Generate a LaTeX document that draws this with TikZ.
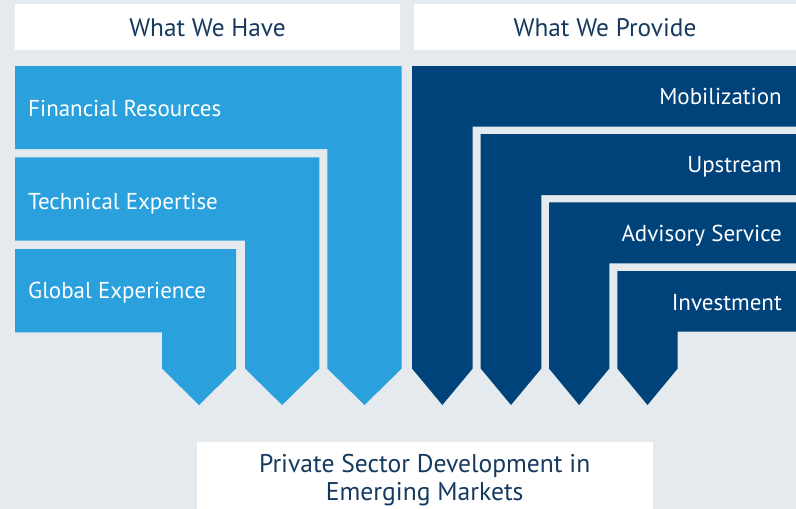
\documentclass[tikz,border=0pt]{standalone}
\usepackage{fontspec}
\setmainfont{PT Sans}
\usepackage{tikz}
\usetikzlibrary{positioning}
\definecolor{bggray}{HTML}{E5EAEE}
\definecolor{haveblue}{HTML}{2AA1DC}
\definecolor{provideblue}{HTML}{00437B}
\definecolor{navytext}{HTML}{163A5F}
\tikzstyle{header} = [text=navytext, inner sep=0pt,
    font=\fontsize{25.3}{28}\selectfont]
\tikzstyle{have} = [fill=haveblue]
\tikzstyle{provide} = [fill=provideblue]
\tikzstyle{itemtext} = [text=white, inner sep=0pt, font=\fontsize{23}{26}\selectfont]

\begin{document}
\begin{tikzpicture}[x=1pt, y=-1pt]
    % background, fixes the size of the page
    \fill [bggray] (0,0) rectangle (796,509);
    \useasboundingbox (0,0) rectangle (796,509);

    % the two headers
    \fill [white] (15,4) rectangle (400,50);
    \fill [white] (414,4) rectangle (796,50);
    \node [header, anchor=base] (have) at (207.5,36) {What We Have};
    \node [header, anchor=base] (provide) at (605,36) {What We Provide};

    % left blocks: top, bottom of the bar, left and right of the column
    \foreach \t/\b/\l/\r in {66/149/327.3/401.7, 157.3/240.7/245/319.3, 249/332.3/162/236}
        \fill [have] (15,\t) -- (\r,\t) -- (\r,368.5) -- ({(\l+\r)/2},405)
            -- (\l,368.5) -- (\l,\b) -- (15,\b) -- cycle;

    % right blocks
    \foreach \t/\b/\l/\r in {66/126.7/412/472.7, 134/195/480.7/541.3,
            202.3/263.3/549/609.3, 271/331.7/617.3/677.7}
        \fill [provide] (796,\t) -- (\l,\t) -- (\l,368.5) -- ({(\l+\r)/2},405)
            -- (\r,368.5) -- (\r,\b) -- (796,\b) -- cycle;

    % texts in the blocks
    \node [itemtext, anchor=base west] (financial) at (28,116) {Financial Resources};
    \node [itemtext, anchor=base west] (technical) at (28,209.5) {Technical Expertise};
    \node [itemtext, anchor=base west] (global) at (28,298.5) {Global Experience};

    \node [itemtext, anchor=base east] (mobilization) at (782,104) {Mobilization};
    \node [itemtext, anchor=base east] (upstream) at (782,172.5) {Upstream};
    \node [itemtext, anchor=base east] (advisory) at (782,241) {Advisory Service};
    \node [itemtext, anchor=base east] (investment) at (782,310) {Investment};

    % the goal at the bottom
    \fill [white] (196.7,442) rectangle (652.7,509);
    \node [header, align=center, font=\fontsize{25.6}{28.4}\selectfont] (goal) at (424.7,480)
        {Private Sector Development in\\Emerging Markets};
\end{tikzpicture}
\end{document}
